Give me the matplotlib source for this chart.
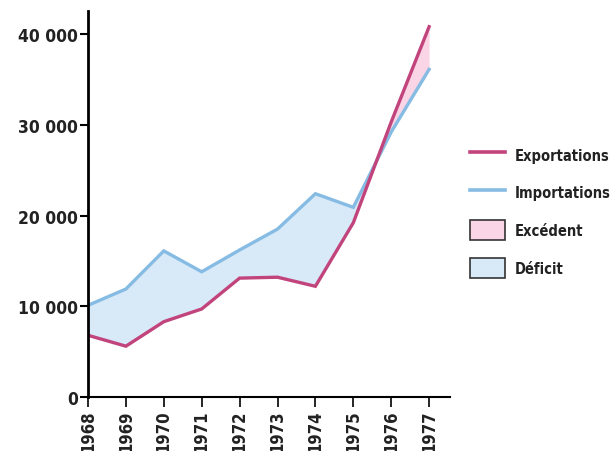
import matplotlib
matplotlib.use("Agg")
import matplotlib.pyplot as plt
from matplotlib.lines import Line2D
from matplotlib.patches import Patch
import numpy as np

years = [1968, 1969, 1970, 1971, 1972, 1973, 1974, 1975, 1976, 1977]
exportations = [6800, 5600, 8300, 9700, 13100, 13200, 12200, 19200, 30300, 40800]
importations = [10100, 11900, 16100, 13800, 16200, 18500, 22400, 20900, 29200, 36100]
yticks = [0, 10000, 20000, 30000, 40000]
ytick_labels = ["0", "10 000", "20 000", "30 000", "40 000"]
legend_labels = ["Exportations", "Importations", "Excédent", "Déficit"]

C_EXP = "#c2447c"
C_IMP = "#86bbe3"
F_EXC = "#f9d5e5"
F_DEF = "#d8eaf8"

plt.rcParams["font.family"] = ["DejaVu Sans"]
plt.rcParams["font.stretch"] = "condensed"

fig = plt.figure(figsize=(6.14, 4.52), dpi=100)
ax = fig.add_axes([88/614, 1-398/452, (450-88)/614, (398-12)/452])

x = np.array(years, dtype=float)
e = np.array(exportations, dtype=float)
i = np.array(importations, dtype=float)
ax.fill_between(x, e, i, where=e >= i, interpolate=True, color=F_EXC, lw=0)
ax.fill_between(x, e, i, where=e <= i, interpolate=True, color=F_DEF, lw=0)
ax.plot(x, i, color=C_IMP, lw=2.4, solid_joinstyle="miter")
ax.plot(x, e, color=C_EXP, lw=2.4, solid_joinstyle="miter")

ax.set_xlim(1968, 1968 + (450-88)/37.9)
ax.set_ylim(0, (398-12)/9.075*1000)
ax.set_xticks(years)
ax.set_xticklabels([str(y) for y in years], rotation=90, fontsize=12, fontweight="bold",
                   color="#222222", fontstretch="condensed")
ax.set_yticks(yticks)
ax.set_yticklabels(ytick_labels, fontsize=12.5, fontweight="bold", color="#222222",
                   fontstretch="condensed")
for s in ["top", "right"]:
    ax.spines[s].set_visible(False)
ax.spines["left"].set_linewidth(2)
ax.spines["bottom"].set_linewidth(1.5)
ax.tick_params(axis="y", length=6, width=1.5, pad=1)
ax.tick_params(axis="x", length=7, width=1.2, pad=2)

handles = [
    Line2D([], [], color=C_EXP, lw=2.6),
    Line2D([], [], color=C_IMP, lw=2.6),
    Patch(facecolor=F_EXC, edgecolor="#333333", lw=1.2),
    Patch(facecolor=F_DEF, edgecolor="#333333", lw=1.2),
]
leg = fig.legend(handles, legend_labels, loc="upper left", bbox_to_anchor=(464/614, 1-140/452),
                 frameon=False, fontsize=10.5, handlelength=2.4, handleheight=1.75,
                 labelspacing=1.2, handletextpad=0.7, borderaxespad=0)
for t in leg.get_texts():
    t.set_fontweight("bold")
    t.set_color("#222222")
    t.set_fontstretch("condensed")

fig.savefig("out.png", dpi=100)
